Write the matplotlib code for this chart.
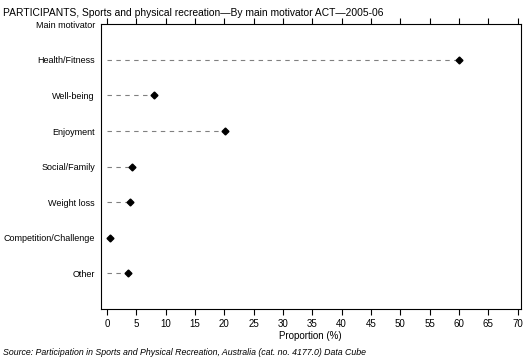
import matplotlib
matplotlib.use("Agg")
import matplotlib.pyplot as plt

plt.rcParams['font.family'] = ['Liberation Sans', 'DejaVu Sans']

motivators = ["Health/Fitness", "Well-being", "Enjoyment", "Social/Family",
              "Weight loss", "Competition/Challenge", "Other"]
proportion = [60.0, 8.1, 20.2, 4.2, 3.9, 0.5, 3.6]
x_ticks = list(range(0, 71, 5))

fig = plt.figure(figsize=(5.29, 3.63), dpi=100)
ax = fig.add_axes([0.190, 0.149, 0.794, 0.784])

ypos = list(range(1, len(motivators) + 1))
for y, v in zip(ypos, proportion):
    ax.plot([0, v], [y, y], color='#808080', linestyle=(0, (4, 4)), linewidth=0.8)
ax.plot(proportion, ypos, linestyle='none', marker='D', markersize=3.5,
        color='black')

ax.set_xlim(-1.1, 70.5)
ax.set_ylim(8, 0)
ax.set_yticks([0] + ypos)
ax.set_yticklabels(["Main motivator"] + motivators, fontsize=6.5)
ax.tick_params(axis='y', length=0, pad=4)
ax.set_xticks(x_ticks)
ax.set_xticklabels([str(t) for t in x_ticks], fontsize=7)
ax.tick_params(axis='x', top=True, direction='out', length=4, width=0.8, pad=3)
for s in ax.spines.values():
    s.set_linewidth(0.8)
ax.set_xlabel("Proportion (%)", fontsize=7, labelpad=2)

fig.text(0.006, 0.978, "PARTICIPANTS, Sports and physical recreation\u2014By main motivator ACT\u20142005-06",
         fontsize=7.4, va='top', ha='left')
fig.text(0.006, 0.03, "Source: Participation in Sports and Physical Recreation, Australia (cat. no. 4177.0) Data Cube",
         fontsize=6.3, style='italic', va='center', ha='left')

fig.savefig("out.png", dpi=100)
